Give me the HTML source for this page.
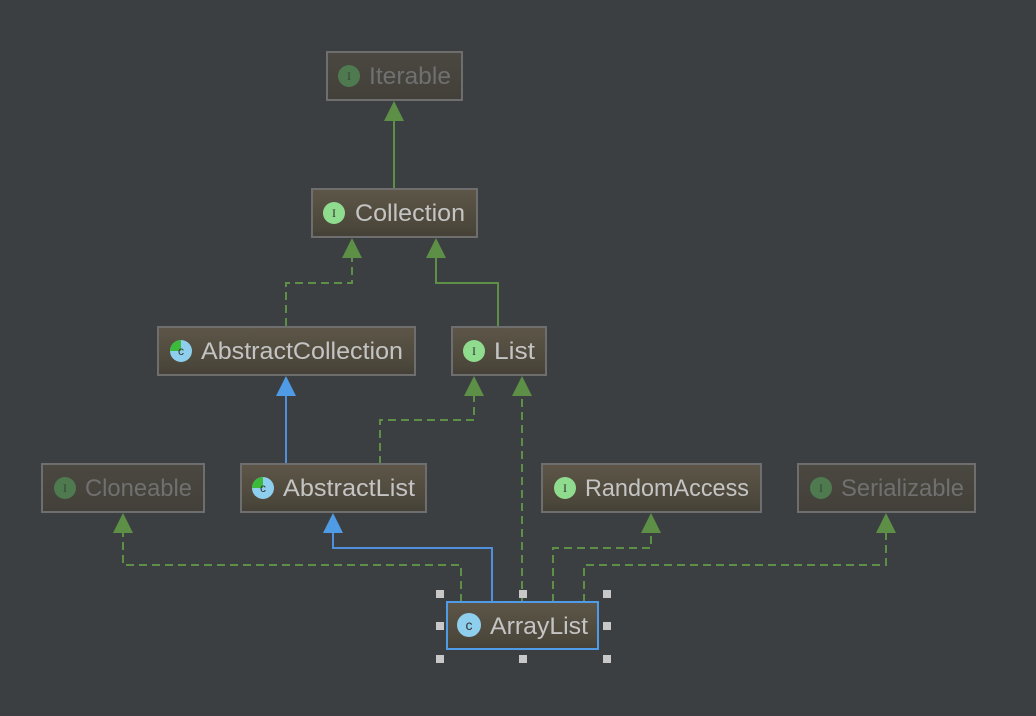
<!DOCTYPE html>
<html><head><meta charset="utf-8"><style>
html,body{margin:0;padding:0;background:#3c3f41;}
svg{display:block}
text{font-family:"Liberation Sans",sans-serif;font-size:24px;}
</style></head><body>
<svg width="1036" height="716" viewBox="0 0 1036 716" xmlns="http://www.w3.org/2000/svg">
<defs>
<linearGradient id="g" x1="0" y1="0" x2="0" y2="1"><stop offset="0" stop-color="#5d5648"/><stop offset="0.8" stop-color="#4c473b"/><stop offset="1" stop-color="#444036"/></linearGradient>
<linearGradient id="gf" x1="0" y1="0" x2="0" y2="1"><stop offset="0" stop-color="#4a4840"/><stop offset="1" stop-color="#424039"/></linearGradient>
</defs>
<rect width="1036" height="716" fill="#3c3f41"/>
<g fill="none" stroke-width="2">
<path d="M394 189V115" stroke="#5d8f46"/>
<path d="M286 326V283H352V255" stroke="#5d8f46" stroke-dasharray="8,5"/>
<path d="M498 326V283H436V255" stroke="#5d8f46"/>
<path d="M286 464V392" stroke="#4f8fdc"/>
<path d="M380 464V420H474V392" stroke="#5d8f46" stroke-dasharray="8,5"/>
<path d="M522 602V392" stroke="#5d8f46" stroke-dasharray="8,5"/>
<path d="M461 602V565H123V530" stroke="#5d8f46" stroke-dasharray="8,5"/>
<path d="M492 602V548H333V530" stroke="#4f8fdc"/>
<path d="M553 602V548H651V530" stroke="#5d8f46" stroke-dasharray="8,5"/>
<path d="M584 602V565H886V530" stroke="#5d8f46" stroke-dasharray="8,5"/>
</g>
<g fill="#5d8f46">
<path d="M394 101l10 20h-20z"/>
<path d="M352 238l10 20h-20z"/>
<path d="M436 238l10 20h-20z"/>
<path d="M474 376l10 20h-20z"/>
<path d="M522 376l10 20h-20z"/>
<path d="M123 513l10 20h-20z"/>
<path d="M651 513l10 20h-20z"/>
<path d="M886 513l10 20h-20z"/>
</g>
<g fill="#4f9be6">
<path d="M286 376l10 20h-20z"/>
<path d="M333 513l10 20h-20z"/>
</g>
<g stroke="#6e6e6e" stroke-width="2">
<rect x="327" y="52" width="135" height="48" fill="url(#gf)"/>
<rect x="312" y="189" width="165" height="48" fill="url(#g)"/>
<rect x="158" y="327" width="257" height="48" fill="url(#g)"/>
<rect x="452" y="327" width="94" height="48" fill="url(#g)"/>
<rect x="42" y="464" width="162" height="48" fill="url(#gf)"/>
<rect x="241" y="464" width="185" height="48" fill="url(#g)"/>
<rect x="542" y="464" width="219" height="48" fill="url(#g)"/>
<rect x="798" y="464" width="177" height="48" fill="url(#gf)"/>
</g>
<rect x="447" y="602" width="151" height="47" fill="url(#g)" stroke="#4f9be6" stroke-width="2"/>
<g fill="#c8c8c8">
<rect x="436" y="590" width="8" height="8"/><rect x="519" y="590" width="8" height="8"/><rect x="603" y="590" width="8" height="8"/>
<rect x="436" y="622" width="8" height="8"/><rect x="603" y="622" width="8" height="8"/>
<rect x="436" y="655" width="8" height="8"/><rect x="519" y="655" width="8" height="8"/><rect x="603" y="655" width="8" height="8"/>
</g>
<g text-anchor="middle">
<circle cx="349" cy="76" r="11" fill="#4f7a4f"/><text x="349" y="80" fill="#2f4a2f" style="font-size:12px;font-family:'Liberation Serif',serif">I</text>
<circle cx="334" cy="213" r="11" fill="#8fdc8f"/><text x="334" y="217" fill="#333" style="font-size:12px;font-family:'Liberation Serif',serif">I</text>
<circle cx="474" cy="351" r="11" fill="#8fdc8f"/><text x="474" y="355" fill="#333" style="font-size:12px;font-family:'Liberation Serif',serif">I</text>
<circle cx="65" cy="488" r="11" fill="#4f7a4f"/><text x="65" y="492" fill="#2f4a2f" style="font-size:12px;font-family:'Liberation Serif',serif">I</text>
<circle cx="565" cy="488" r="11" fill="#8fdc8f"/><text x="565" y="492" fill="#333" style="font-size:12px;font-family:'Liberation Serif',serif">I</text>
<circle cx="821" cy="488" r="11" fill="#4f7a4f"/><text x="821" y="492" fill="#2f4a2f" style="font-size:12px;font-family:'Liberation Serif',serif">I</text>
<circle cx="181" cy="351" r="11" fill="#8fcfee"/><path d="M181 351L170 351A11 11 0 0 1 181 340Z" fill="#3cba3c"/><text x="181" y="355" fill="#333" style="font-size:12px">c</text>
<circle cx="263" cy="488" r="11" fill="#8fcfee"/><path d="M263 488L252 488A11 11 0 0 1 263 477Z" fill="#3cba3c"/><text x="263" y="492" fill="#333" style="font-size:12px">c</text>
<circle cx="469" cy="625" r="12" fill="#8fcfee"/><text x="469" y="630" fill="#333" style="font-size:14px">c</text>
</g>
<g>
<text x="369" y="84" fill="#707070" textLength="82" lengthAdjust="spacingAndGlyphs">Iterable</text>
<text x="355" y="221" fill="#c4c4c4" textLength="110" lengthAdjust="spacingAndGlyphs">Collection</text>
<text x="201" y="359" fill="#c4c4c4" textLength="202" lengthAdjust="spacingAndGlyphs">AbstractCollection</text>
<text x="494" y="359" fill="#c4c4c4" textLength="41" lengthAdjust="spacingAndGlyphs">List</text>
<text x="85" y="496" fill="#707070" textLength="107" lengthAdjust="spacingAndGlyphs">Cloneable</text>
<text x="283" y="496" fill="#c4c4c4" textLength="132" lengthAdjust="spacingAndGlyphs">AbstractList</text>
<text x="585" y="496" fill="#c4c4c4" textLength="164" lengthAdjust="spacingAndGlyphs">RandomAccess</text>
<text x="841" y="496" fill="#707070" textLength="123" lengthAdjust="spacingAndGlyphs">Serializable</text>
<text x="490" y="634" fill="#c4c4c4" textLength="98" lengthAdjust="spacingAndGlyphs">ArrayList</text>
</g>
</svg>
</body></html>
